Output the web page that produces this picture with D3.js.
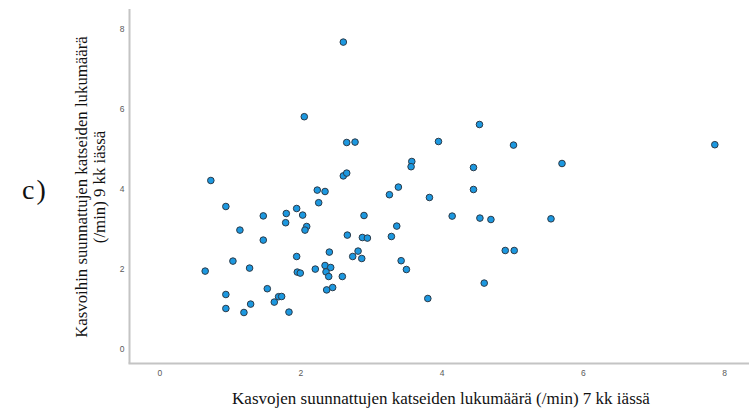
<!DOCTYPE html>
<html>
<head>
<meta charset="utf-8">
<script src="https://cdn.jsdelivr.net/npm/d3@7"></script>
<style>
  html, body { margin: 0; padding: 0; background: #fff; }
  svg { display: block; }
</style>
</head>
<body>
<svg id="chart" width="750" height="412"></svg>
<script>
// Face-directed looks per minute: at 7 months (x) and at 9 months (y)
const looks7 = [
  2.607, 2.054, 2.655, 2.773, 0.730, 2.607, 2.655, 2.238, 2.348, 0.943,
  1.946, 2.258, 1.473, 1.799, 2.031, 1.790, 2.088, 2.064, 1.142, 1.473,
  2.664, 2.409, 1.043, 1.946, 0.650, 1.279, 1.955, 1.997, 2.210, 2.348,
  2.428, 2.362, 2.400, 2.593, 2.371, 2.456, 1.530, 0.943, 1.690, 1.733,
  1.629, 0.943, 1.294, 1.199, 1.837, 4.536, 3.955, 5.018, 3.577, 3.567,
  4.451, 5.705, 3.387, 3.260, 4.451, 3.827, 2.900, 4.149, 4.542, 4.698,
  5.549, 3.364, 2.877, 2.948, 3.288, 2.816, 2.740, 2.868, 4.901, 5.028,
  3.426, 3.501, 4.603, 3.804, 7.870
];
const looks9 = [
  7.655, 5.790, 5.145, 5.155, 4.195, 4.310, 4.380, 3.955, 3.920, 3.545,
  3.495, 3.640, 3.310, 3.370, 3.330, 3.140, 3.045, 2.955, 2.955, 2.705,
  2.830, 2.405, 2.180, 2.295, 1.930, 2.005, 1.905, 1.880, 1.980, 2.070,
  2.020, 1.910, 1.795, 1.795, 1.460, 1.520, 1.490, 1.345, 1.290, 1.295,
  1.155, 0.995, 1.105, 0.895, 0.905, 5.595, 5.170, 5.080, 4.670, 4.540,
  4.520, 4.620, 4.030, 3.840, 3.970, 3.770, 3.320, 3.305, 3.255, 3.220,
  3.237, 3.055, 2.770, 2.755, 2.795, 2.430, 2.295, 2.245, 2.445, 2.445,
  2.190, 1.970, 1.630, 1.245, 5.090
];
const xTicks = [0, 2, 4, 6, 8];
const yTicks = [0, 2, 4, 6, 8];
const xTitle = "Kasvojen suunnattujen katseiden lukumäärä (/min) 7 kk iässä";
const yTitleLines = ["Kasvoihin suunnattujen katseiden lukumäärä", "(/min) 9 kk iässä"];
const panelLabel = "c)";

const points = looks7.map((x, i) => ({ x, y: looks9[i] }));

const svg = d3.select("#chart");

const x = d3.scaleLinear().domain([0, 8]).range([159.3, 724]);
const y = d3.scaleLinear().domain([0, 8]).range([348.3, 28.3]);

const axisLeftX = 129.5;
const axisBottomY = 363.5;
const serif = "Liberation Serif, Times New Roman, serif";
const sans = "Liberation Sans, Arial, sans-serif";

// Axis frame lines
svg.append("line")
  .attr("x1", axisLeftX).attr("x2", axisLeftX)
  .attr("y1", 9).attr("y2", axisBottomY)
  .attr("stroke", "#c4c4c4").attr("stroke-width", 2);
svg.append("line")
  .attr("x1", axisLeftX - 1).attr("x2", 749)
  .attr("y1", axisBottomY).attr("y2", axisBottomY)
  .attr("stroke", "#c4c4c4").attr("stroke-width", 2);

// Y axis tick labels
const yAxis = d3.axisLeft(y).tickValues(yTicks).tickSize(0).tickPadding(0).tickFormat(d3.format("d"));
const yg = svg.append("g").attr("transform", `translate(${axisLeftX - 5},0)`).call(yAxis);
yg.select(".domain").remove();
yg.selectAll("text")
  .attr("font-family", sans)
  .attr("font-size", 8.5)
  .attr("fill", "#5a5a5a");

// X axis tick labels
const xAxis = d3.axisBottom(x).tickValues(xTicks).tickSize(0).tickPadding(0).tickFormat(d3.format("d"));
const xg = svg.append("g").attr("transform", `translate(0,${axisBottomY + 6})`).call(xAxis);
xg.select(".domain").remove();
xg.selectAll("text")
  .attr("font-family", sans)
  .attr("font-size", 8.5)
  .attr("fill", "#5a5a5a");

// Scatter points
svg.append("g")
  .selectAll("circle")
  .data(points)
  .join("circle")
  .attr("cx", d => x(d.x))
  .attr("cy", d => y(d.y))
  .attr("r", 3.3)
  .attr("fill", "#1c98e0")
  .attr("stroke", "#2b3a48")
  .attr("stroke-width", 1);

// Axis titles
svg.append("text")
  .attr("x", 441).attr("y", 404)
  .attr("text-anchor", "middle")
  .attr("font-family", serif)
  .attr("font-size", 17)
  .attr("fill", "#111")
  .text(xTitle);

// Two-line rotated y title, each line centred on the plot's vertical middle
const yTitleCenter = 187;
svg.append("g")
  .selectAll("text")
  .data(yTitleLines)
  .join("text")
  .attr("font-family", serif)
  .attr("font-size", 16.8)
  .attr("fill", "#111")
  .text(d => d)
  .each(function (d, i) {
    const len = this.getComputedTextLength();
    d3.select(this).attr("transform",
      `translate(${87 + i * 18},${yTitleCenter + len / 2}) rotate(-90)`);
  });

// Panel label
svg.append("text")
  .attr("x", 22).attr("y", 199)
  .attr("font-family", serif)
  .attr("font-size", 28)
  .attr("letter-spacing", 2)
  .attr("fill", "#111")
  .text(panelLabel);
</script>
</body>
</html>
